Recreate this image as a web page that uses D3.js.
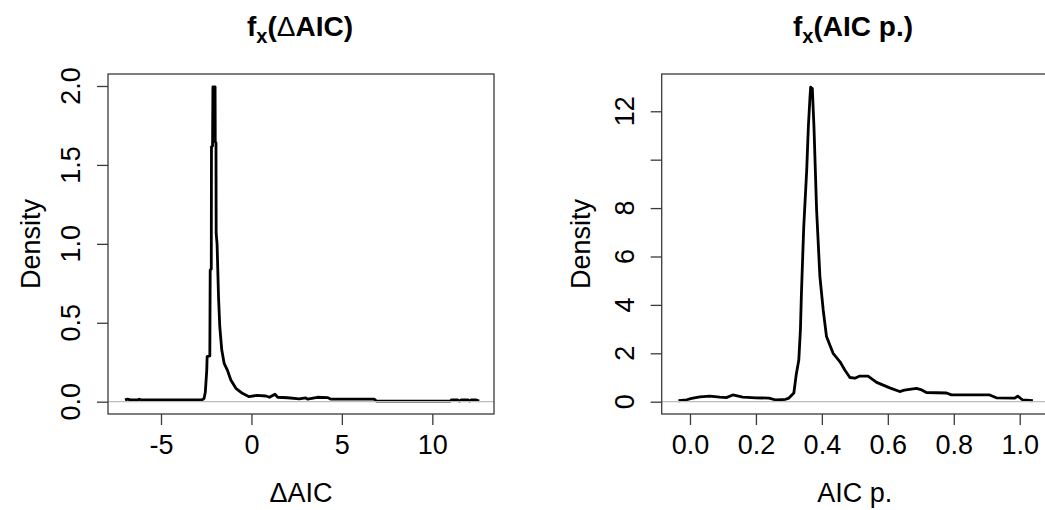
<!DOCTYPE html>
<html>
<head>
<meta charset="utf-8">
<script src="https://cdn.jsdelivr.net/npm/d3@7"></script>
<style>
  html, body { margin: 0; padding: 0; background: #fff; }
  svg text { font-family: "Liberation Sans", Arial, sans-serif; fill: #000; }
</style>
</head>
<body>
<svg id="chart" width="1045" height="510"></svg>
<script>
// ---- Data: left panel, density of ΔAIC ----
const daicX = [-6.99,-6.85,-6.7,-6.3,-6.2,-6.1,-2.75,-2.62,-2.55,-2.47,-2.45,-2.30,-2.28,-2.22,-2.21,-2.15,-2.13,-2.01,-2.0,-1.96,-1.95,-1.9,-1.82,-1.75,-1.64,-1.51,-1.33,-1.14,-0.86,-0.5,-0.13,0.3,0.8,1.0,1.3,1.45,2.0,2.64,3.0,3.1,3.65,4.2,4.4,6.8,6.9,11.0,11.07,11.4,11.5,11.6,11.97,12.05,12.15,12.4,12.59];
const daicY = [0.011,0.016,0.011,0.011,0.016,0.011,0.011,0.02,0.06,0.2,0.285,0.29,0.834,0.84,1.614,1.62,1.994,1.994,1.646,1.64,1.066,1.0,0.665,0.475,0.327,0.243,0.2,0.137,0.085,0.053,0.032,0.04,0.036,0.028,0.047,0.028,0.025,0.018,0.024,0.016,0.028,0.026,0.016,0.016,0.004,0.004,0.012,0.012,0.004,0.012,0.012,0.004,0.012,0.012,0.004];

// ---- Data: right panel, density of AIC p. ----
const aicpX = [-0.035,-0.01,0.005,0.03,0.06,0.09,0.11,0.13,0.16,0.2,0.24,0.26,0.29,0.30,0.315,0.322,0.33,0.335,0.338,0.345,0.354,0.359,0.364,0.366,0.369,0.371,0.376,0.384,0.394,0.404,0.414,0.434,0.455,0.47,0.485,0.5,0.515,0.54,0.566,0.606,0.636,0.65,0.687,0.7,0.717,0.778,0.793,0.909,0.929,0.985,0.994,1.009,1.04];
const aicpY = [0.04,0.08,0.14,0.2,0.23,0.19,0.17,0.28,0.19,0.16,0.15,0.07,0.1,0.15,0.36,1.1,1.72,3.0,4.48,7.23,9.57,11.36,12.6,13.0,12.7,12.95,11.36,7.92,5.17,3.79,2.69,2.0,1.65,1.3,1.0,0.97,1.06,1.06,0.8,0.57,0.42,0.48,0.55,0.5,0.38,0.36,0.28,0.28,0.16,0.15,0.23,0.07,0.04];

// ---- Ticks ----
const daicXTicks = [-5, 0, 5, 10];
const daicYTicks = [0, 0.5, 1.0, 1.5, 2.0];
const daicYLabels = ["0.0", "0.5", "1.0", "1.5", "2.0"];
const aicpXTicks = [0, 0.2, 0.4, 0.6, 0.8, 1.0];
const aicpXLabels = ["0.0", "0.2", "0.4", "0.6", "0.8", "1.0"];
const aicpYTicks = [0, 2, 4, 6, 8, 10, 12];
const aicpYLabels = ["0", "2", "4", "6", "8", "", "12"];

const svg = d3.select("#chart");
const FS = 27;
const axisCol = "#3a3a3a";

function panel(cfg) {
  const { left, right, top, bottom } = cfg.box;
  const x = d3.scaleLinear().domain(cfg.xDomain).range([left, right]);
  const y = d3.scaleLinear().domain(cfg.yDomain).range([bottom, top]);
  const g = svg.append("g");

  const pts = cfg.xs.map((v, i) => [v, cfg.ys[i]]);
  g.append("path")
    .datum(pts)
    .attr("d", d3.line().x(d => x(d[0])).y(d => y(d[1])))
    .attr("fill", "none")
    .attr("stroke", "#000")
    .attr("stroke-width", 2.8)
    .attr("stroke-linejoin", "round");

  // zero line
  g.append("line")
    .attr("x1", left).attr("x2", right)
    .attr("y1", y(0)).attr("y2", y(0))
    .attr("stroke", "#bdbdbd").attr("stroke-width", 1.2);

  // box
  g.append("rect")
    .attr("x", left).attr("y", top)
    .attr("width", right - left).attr("height", bottom - top)
    .attr("fill", "none").attr("stroke", axisCol).attr("stroke-width", 1.3);

  // x axis
  const xAxis = d3.axisBottom(x).tickValues(cfg.xTicks).tickSize(11).tickPadding(10)
    .tickFormat((d, i) => cfg.xLabels ? cfg.xLabels[i] : String(d));
  const gx = g.append("g").attr("transform", `translate(0,${bottom})`).call(xAxis);
  gx.select(".domain").remove();
  gx.selectAll("line").attr("stroke", axisCol).attr("stroke-width", 1.3);
  gx.selectAll("text").attr("font-size", FS).attr("fill", "#000")
    .attr("font-family", '"Liberation Sans", Arial, sans-serif');

  // y axis
  const yAxis = d3.axisLeft(y).tickValues(cfg.yTicks).tickSize(11).tickFormat("");
  const gy = g.append("g").attr("transform", `translate(${left},0)`).call(yAxis);
  gy.select(".domain").remove();
  gy.selectAll("line").attr("stroke", axisCol).attr("stroke-width", 1.3);
  g.selectAll(".ylab").data(cfg.yTicks).enter().append("text")
    .attr("class", "ylab")
    .attr("transform", d => `translate(${cfg.yLabelX},${y(d)}) rotate(-90)`)
    .attr("text-anchor", "middle")
    .attr("dy", "0.36em")
    .attr("font-size", FS)
    .text((d, i) => cfg.yLabels[i]);

  // axis titles
  const cx = (left + right) / 2;
  g.append("text")
    .attr("x", cx).attr("y", 502)
    .attr("text-anchor", "middle").attr("font-size", FS)
    .text(cfg.xTitle);
  g.append("text")
    .attr("transform", `translate(${cfg.yTitleX},${(top + bottom) / 2}) rotate(-90)`)
    .attr("text-anchor", "middle").attr("dy", "0.36em").attr("font-size", FS)
    .text("Density");

  // main title with subscript
  const t = g.append("text")
    .attr("x", cfg.titleX).attr("y", 36)
    .attr("text-anchor", "middle").attr("font-size", 28).attr("font-weight", "bold");
  t.append("tspan").text("f");
  t.append("tspan").attr("font-size", 20).attr("dy", 7).text("x");
  t.append("tspan").attr("dy", -7).text("(");
  cfg.titleParts.forEach(p => {
    t.append("tspan").attr("font-weight", p.w).text(p.s);
  });
  t.append("tspan").text(")");
}

panel({
  box: { left: 108, right: 494, top: 74, bottom: 414 },
  xDomain: [-7.93, 13.41],
  yDomain: [-0.078, 2.076],
  xs: daicX, ys: daicY,
  xTicks: daicXTicks, xLabels: null,
  yTicks: daicYTicks, yLabels: daicYLabels,
  yLabelX: 70, yTitleX: 30,
  xTitle: "ΔAIC",
  titleParts: [{ s: "Δ", w: "normal" }, { s: "AIC", w: "bold" }],
  titleX: 300
});

panel({
  box: { left: 661.7, right: 1048, top: 74, bottom: 414 },
  xDomain: [-0.0858, 1.0858],
  yDomain: [-0.508, 13.54],
  xs: aicpX, ys: aicpY,
  xTicks: aicpXTicks, xLabels: aicpXLabels,
  yTicks: aicpYTicks, yLabels: aicpYLabels,
  yLabelX: 624, yTitleX: 580,
  xTitle: "AIC p.",
  titleParts: [{ s: "AIC p.", w: "bold" }],
  titleX: 853
});
</script>
</body>
</html>
